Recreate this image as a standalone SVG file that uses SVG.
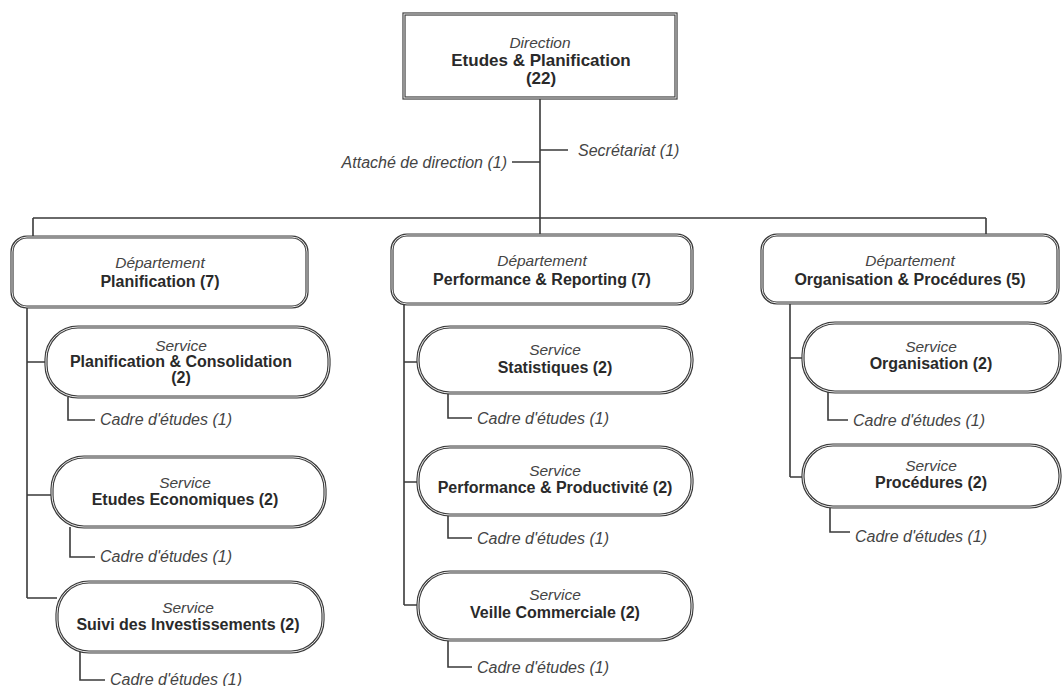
<svg xmlns="http://www.w3.org/2000/svg" width="1064" height="686" viewBox="0 0 1064 686">
<style>
.box{fill:#fff;stroke:#3a3a3a;stroke-width:3.2}
.inner{fill:none;stroke:#fff;stroke-width:0.9}
.ln{fill:none;stroke:#3a3a3a;stroke-width:1.6}
.t{font-family:"Liberation Sans",Arial,sans-serif;fill:#2a2a2a;text-anchor:middle}
.i{font-style:italic;font-size:15.5px;fill:#444}
.b{font-weight:bold;font-size:16px}
.bb{font-weight:bold;font-size:17px}
.c{font-family:"Liberation Sans",Arial,sans-serif;font-style:italic;font-size:16px;fill:#444}
</style>
<rect width="1064" height="686" fill="#fff"/>
<g id="connectors">
<path class="ln" d="M540 98V238M540 150H568M512 162H540"/>
<path class="ln" d="M33 218H986M33 218V238M986 218V236"/>
<path class="ln" d="M27 307V598M27 362H46M27 495H52M27 598H57"/>
<path class="ln" d="M68 397V420H95M70 527V557H95M80 652V680H105"/>
<path class="ln" d="M404 304V605M404 362H418M404 482H418M404 605H418"/>
<path class="ln" d="M448 393V418H472M448 515V538H472M448 640V667H472"/>
<path class="ln" d="M790 303V477M790 358H803M790 477H803"/>
<path class="ln" d="M828 392V420H848M830 507V532H850"/>
</g>
<g id="direction">
<rect class="box" x="404" y="14" width="272" height="84"/>
<rect class="inner" x="404" y="14" width="272" height="84"/>
<text class="t i" x="540" y="48">Direction</text>
<text class="t bb" x="541" y="66">Etudes &amp; Planification</text>
<text class="t bb" x="541" y="84">(22)</text>
</g>
<g id="secretariat"><text class="c" x="578" y="156">Secrétariat (1)</text></g>
<g id="attache"><text class="c" x="507" y="168" text-anchor="end">Attaché de direction (1)</text></g>
<g id="dept-planif">
<rect class="box" x="12" y="237" width="295" height="70" rx="15"/>
<rect class="inner" x="12" y="237" width="295" height="70" rx="15"/>
<text class="t i" x="160" y="268">Département</text>
<text class="t b" x="160" y="287">Planification (7)</text>
</g>
<g id="dept-perf">
<rect class="box" x="392" y="235" width="300" height="69" rx="15"/>
<rect class="inner" x="392" y="235" width="300" height="69" rx="15"/>
<text class="t i" x="542" y="266">Département</text>
<text class="t b" x="542" y="285">Performance &amp; Reporting (7)</text>
</g>
<g id="dept-org">
<rect class="box" x="762" y="235" width="296" height="68" rx="15"/>
<rect class="inner" x="762" y="235" width="296" height="68" rx="15"/>
<text class="t i" x="910" y="266">Département</text>
<text class="t b" x="910" y="285">Organisation &amp; Procédures (5)</text>
</g>
<g id="svc-planif-conso">
<rect class="box" x="46" y="327" width="283" height="70" rx="32"/>
<rect class="inner" x="46" y="327" width="283" height="70" rx="32"/>
<text class="t i" x="181" y="351">Service</text>
<text class="t b" x="181" y="367">Planification &amp; Consolidation</text>
<text class="t b" x="181" y="383">(2)</text>
</g>
<g id="cadre1"><text class="c" x="100" y="425">Cadre d'études (1)</text></g>
<g id="svc-etudes-eco">
<rect class="box" x="52" y="457" width="273" height="70" rx="32"/>
<rect class="inner" x="52" y="457" width="273" height="70" rx="32"/>
<text class="t i" x="185" y="488">Service</text>
<text class="t b" x="185" y="505">Etudes Economiques (2)</text>
</g>
<g id="cadre2"><text class="c" x="100" y="562">Cadre d'études (1)</text></g>
<g id="svc-suivi">
<rect class="box" x="57" y="582" width="266" height="70" rx="32"/>
<rect class="inner" x="57" y="582" width="266" height="70" rx="32"/>
<text class="t i" x="188" y="613">Service</text>
<text class="t b" x="188" y="630">Suivi des Investissements (2)</text>
</g>
<g id="cadre3"><text class="c" x="110" y="685">Cadre d'études (1)</text></g>
<g id="svc-stat">
<rect class="box" x="418" y="327" width="274" height="66" rx="32"/>
<rect class="inner" x="418" y="327" width="274" height="66" rx="32"/>
<text class="t i" x="555" y="355">Service</text>
<text class="t b" x="555" y="373">Statistiques (2)</text>
</g>
<g id="cadre4"><text class="c" x="477" y="424">Cadre d'études (1)</text></g>
<g id="svc-perf-prod">
<rect class="box" x="418" y="447" width="274" height="68" rx="32"/>
<rect class="inner" x="418" y="447" width="274" height="68" rx="32"/>
<text class="t i" x="555" y="476">Service</text>
<text class="t b" x="555" y="493">Performance &amp; Productivité (2)</text>
</g>
<g id="cadre5"><text class="c" x="477" y="544">Cadre d'études (1)</text></g>
<g id="svc-veille">
<rect class="box" x="418" y="572" width="274" height="68" rx="32"/>
<rect class="inner" x="418" y="572" width="274" height="68" rx="32"/>
<text class="t i" x="555" y="600">Service</text>
<text class="t b" x="555" y="618">Veille Commerciale (2)</text>
</g>
<g id="cadre6"><text class="c" x="477" y="673">Cadre d'études (1)</text></g>
<g id="svc-org">
<rect class="box" x="803" y="323" width="257" height="69" rx="32"/>
<rect class="inner" x="803" y="323" width="257" height="69" rx="32"/>
<text class="t i" x="931" y="352">Service</text>
<text class="t b" x="931" y="369">Organisation (2)</text>
</g>
<g id="cadre7"><text class="c" x="853" y="426">Cadre d'études (1)</text></g>
<g id="svc-proc">
<rect class="box" x="803" y="445" width="257" height="62" rx="30"/>
<rect class="inner" x="803" y="445" width="257" height="62" rx="30"/>
<text class="t i" x="931" y="471">Service</text>
<text class="t b" x="931" y="488">Procédures (2)</text>
</g>
<g id="cadre8"><text class="c" x="855" y="542">Cadre d'études (1)</text></g>
</svg>
